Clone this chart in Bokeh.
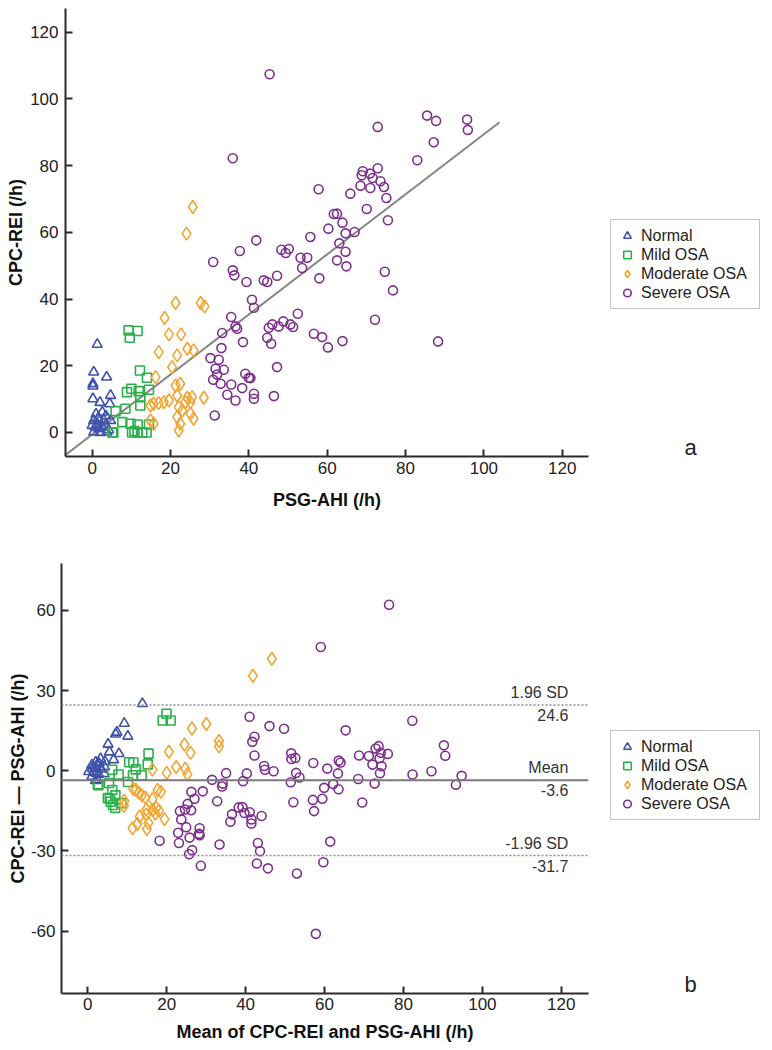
import numpy as np
from bokeh.plotting import figure
from bokeh.layouts import column, row
from bokeh.models import Range1d, Legend, LegendItem, Span, Label, FixedTicker
from bokeh.embed import file_html
from bokeh.resources import INLINE

# ---------------- data (PSG-AHI, CPC-REI) per severity group ----------------
normal_x = [1.3, 0.4, 3.7, 0.2, 0.2, 0.2, 4.7, 4.5, 2.6, 0.4, 3.0, 4.7, 0.0, 0.8, 1.7, 2.6, 3.4, 0.4, 2.1, 3.8, 1.3, 2.0, 3.5, 1.0, 1.5, 4.2]
normal_y = [26.4, 18.1, 16.6, 14.6, 13.9, 10.1, 11.1, 8.6, 6.1, 3.6, 3.6, 3.6, 2.1, 1.6, 1.1, 1.6, 2.1, 0.1, 0.0, 0.1, 2.6, 9.0, 5.0, 5.5, 4.2, 0.8]

mild_x = [9.3, 11.6, 9.6, 12.2, 14.0, 8.9, 10.0, 11.9, 14.5, 12.3, 8.5, 6.0, 12.3, 7.7, 9.8, 11.6, 14.5, 5.4, 10.2, 11.6, 13.9, 12.8, 10.8, 5.1]
mild_y = [30.6, 30.4, 28.4, 18.6, 16.4, 12.1, 13.1, 12.4, 12.8, 10.6, 7.1, 6.4, 8.1, 3.1, 2.6, 2.4, 2.4, 0.0, 0.0, 0.0, 0.0, 0.0, 0.4, 0.0]

moderate_x = [24.1, 25.7, 21.3, 27.7, 28.7, 18.5, 19.6, 22.7, 17.0, 24.3, 25.9, 21.7, 20.4, 16.2, 21.3, 22.5, 21.7, 28.5,
              24.3, 25.1, 23.8, 25.5, 15.7, 17.0, 18.3, 19.6, 14.9, 22.1, 23.0, 25.1, 25.9, 21.7, 22.5, 22.1, 14.9, 15.7]
moderate_y = [59.6, 67.6, 38.8, 38.8, 37.8, 34.3, 29.4, 29.4, 24.1, 25.1, 24.6, 23.1, 19.6, 16.6, 14.1, 14.6, 11.1, 10.4,
              10.4, 9.1, 9.1, 10.6, 8.6, 8.8, 9.1, 9.6, 8.1, 7.6, 6.6, 5.6, 4.1, 4.6, 2.6, 0.6, 3.6, 2.6]

severe_x = [45.3, 72.9, 85.5, 87.8, 95.7, 95.9, 87.2, 83.0, 72.9, 69.1, 68.8, 70.9, 71.6, 73.6, 74.5, 68.5, 71.0, 75.1,
            70.1, 75.5, 57.8, 65.9, 61.7, 62.5, 63.9, 60.3, 64.7, 67.0, 55.7, 41.9, 63.1, 48.3, 50.2, 49.4, 64.7, 53.2,
            54.9, 62.5, 53.6, 64.9, 58.0, 74.7, 76.8, 47.2, 43.8, 44.7, 40.8, 41.3, 52.5, 48.8, 46.0, 45.1, 47.6, 50.6,
            51.3, 72.2, 56.6, 58.7, 60.2, 63.9, 44.7, 45.7, 88.3, 47.2, 40.4, 41.3, 41.3, 46.4, 35.9, 30.9, 37.7, 35.9,
            36.3, 39.4, 35.5, 33.2, 36.6, 37.0, 38.5, 33.0, 30.2, 32.3, 31.5, 33.6, 30.9, 31.9, 32.8, 39.1, 40.0, 35.5,
            38.3, 34.5, 36.6, 31.3]
severe_y = [107.4, 91.6, 95.0, 93.4, 93.8, 90.7, 87.0, 81.6, 79.2, 78.3, 77.1, 77.6, 76.3, 75.3, 73.6, 74.0, 73.3, 70.3,
            67.0, 63.6, 72.9, 71.6, 65.5, 65.6, 62.9, 61.1, 59.7, 60.1, 58.6, 57.6, 56.7, 54.8, 55.0, 53.8, 54.2, 52.4,
            52.4, 51.6, 49.3, 49.8, 46.2, 48.2, 42.6, 47.0, 45.6, 45.1, 39.8, 37.4, 35.6, 33.3, 32.4, 31.4, 31.8, 32.4,
            31.6, 33.8, 29.6, 28.6, 25.5, 27.4, 28.4, 26.6, 27.3, 19.6, 16.3, 11.6, 10.1, 10.9, 82.2, 51.1, 54.4, 48.6,
            47.1, 45.1, 34.6, 29.8, 31.8, 31.1, 27.1, 25.3, 22.3, 21.8, 19.1, 18.8, 15.8, 17.4, 14.6, 17.6, 16.4, 14.4,
            13.3, 11.3, 9.6, 5.1]

group_labels = ["Normal", "Mild OSA", "Moderate OSA", "Severe OSA"]

# regression line
reg_slope = 0.9
reg_intercept = -0.6
reg_x_end = 104.0

# Bland-Altman statistics (as printed)
ba_mean = -3.6
ba_upper = 24.6
ba_lower = -31.7

x_ticks = [0, 20, 40, 60, 80, 100, 120]
ya_ticks = [0, 20, 40, 60, 80, 100, 120]
yb_ticks = [-60, -30, 0, 30, 60]

# ---------------- styling ----------------
FONT = "Liberation Sans"
AXC = "#2b2b2b"
COLORS = {"Normal": "#3f51a8", "Mild OSA": "#2db04b", "Moderate OSA": "#f2a531", "Severe OSA": "#7d2f8e"}
MARKERS = {"Normal": "triangle", "Mild OSA": "square", "Moderate OSA": "diamond", "Severe OSA": "circle"}
SIZES = {"Normal": 10, "Mild OSA": 9, "Moderate OSA": 13, "Severe OSA": 9}

groups = {
    "Normal": (np.array(normal_x), np.array(normal_y)),
    "Mild OSA": (np.array(mild_x), np.array(mild_y)),
    "Moderate OSA": (np.array(moderate_x), np.array(moderate_y)),
    "Severe OSA": (np.array(severe_x), np.array(severe_y)),
}


def style(p, xticks, yticks, y_standoff, y_label_standoff, x_standoff, x_label_standoff):
    for ax in (p.xaxis[0], p.yaxis[0]):
        ax.axis_line_width = 2
        ax.axis_line_color = AXC
        ax.major_tick_in = 7
        ax.major_tick_out = 0
        ax.major_tick_line_width = 2
        ax.major_tick_line_color = AXC
        ax.minor_tick_line_color = None
        ax.major_label_text_font = FONT
        ax.major_label_text_font_size = "17px"
        ax.major_label_text_color = "#222222"
        ax.axis_label_text_font = FONT
        ax.axis_label_text_font_style = "bold"
        ax.axis_label_text_font_size = "18px"
        ax.axis_label_text_color = "#111111"
    p.xaxis[0].major_label_standoff = x_standoff
    p.yaxis[0].major_label_standoff = y_standoff
    p.xaxis[0].axis_label_standoff = x_label_standoff
    p.yaxis[0].axis_label_standoff = y_label_standoff
    p.xaxis.ticker = FixedTicker(ticks=xticks)
    p.yaxis.ticker = FixedTicker(ticks=yticks)
    p.yaxis.major_label_overrides = {t: f"{t}" for t in yticks}
    p.xgrid.visible = False
    p.ygrid.visible = False
    p.outline_line_color = None


def side_panel(height, legend_xy, tag, tag_xy):
    # legend-only panel; its frame is aligned with the neighbouring plot's frame
    s = figure(width=176, height=height, output_backend="svg", toolbar_location=None,
               x_range=Range1d(-1000, -999), y_range=Range1d(-1000, -999),
               x_axis_type=None, y_axis_type=None, min_border=0)
    s.outline_line_color = None
    s.grid.visible = False
    rends = {}
    for g in group_labels:
        gx, gy = groups[g]
        rends[g] = s.scatter(gx, gy, marker=MARKERS[g], size=SIZES[g], fill_color=None,
                             line_color=COLORS[g], line_width=1.6)
    items = [LegendItem(label=g, renderers=[rends[g]]) for g in group_labels]
    lg = Legend(items=items, location=legend_xy, orientation="vertical")
    lg.border_line_color = "#8a8a8a"
    lg.border_line_width = 1
    lg.background_fill_color = "white"
    lg.background_fill_alpha = 1
    lg.label_text_font = FONT
    lg.label_text_font_size = "16px"
    lg.label_text_color = "#222222"
    lg.glyph_width = 20
    lg.glyph_height = 19
    lg.label_height = 19
    lg.label_width = 112
    lg.spacing = 0
    lg.padding = 6
    lg.margin = 0
    lg.label_standoff = 4
    s.add_layout(lg)
    s.add_layout(Label(x=tag_xy[0], y=tag_xy[1], x_units="screen", y_units="screen", text=tag,
                       text_align="center", text_baseline="middle",
                       text_font=FONT, text_font_size="22px", text_color="#222222"))
    return s


# ---------------- panel a ----------------
pa = figure(width=590, height=518, output_backend="svg", toolbar_location=None,
            x_range=Range1d(-6.8, 126.7), y_range=Range1d(-7.2, 127.1),
            min_border_left=65, min_border_right=2, min_border_top=8, min_border_bottom=62,
            x_axis_label="PSG-AHI (/h)", y_axis_label="CPC-REI (/h)")
style(pa, x_ticks, ya_ticks, 7, 1, 5, 13)

reg_x = np.array([pa.x_range.start, reg_x_end])
pa.line(reg_x, reg_slope * reg_x + reg_intercept, line_color="#858585", line_width=2)

for g in group_labels:
    gx, gy = groups[g]
    pa.scatter(gx, gy, marker=MARKERS[g], size=SIZES[g], fill_color=None,
               line_color=COLORS[g], line_width=1.6)

sa = side_panel(518, (20, 147), "a", (100, 9))

# ---------------- panel b (Bland-Altman) ----------------
pb = figure(width=590, height=530, output_backend="svg", toolbar_location=None,
            x_range=Range1d(-6.66, 126.9), y_range=Range1d(-83.3, 77.5),
            min_border_left=61, min_border_right=2, min_border_top=45, min_border_bottom=55,
            x_axis_label="Mean of CPC-REI and PSG-AHI (/h)", y_axis_label="CPC-REI \u2014 PSG-AHI (/h)")
style(pb, x_ticks, yb_ticks, 6, 0, 4, 9)

pb.add_layout(Span(location=ba_upper, dimension="width", line_color="#8a8a8a", line_width=1.6, line_dash="2 2"))
pb.add_layout(Span(location=ba_lower, dimension="width", line_color="#8a8a8a", line_width=1.6, line_dash="2 2"))
pb.add_layout(Span(location=ba_mean, dimension="width", line_color="#7a7a7a", line_width=2))

for g in group_labels:
    gx, gy = groups[g]
    pb.scatter((gx + gy) / 2.0, gy - gx, marker=MARKERS[g], size=SIZES[g], fill_color=None,
               line_color=COLORS[g], line_width=1.6)

LBL_X = 121.8
for yv, top_txt, bot_txt in [(ba_upper, "1.96 SD", f"{ba_upper:.1f}"),
                             (ba_mean, "Mean", f"{ba_mean:.1f}"),
                             (ba_lower, "-1.96 SD", f"{ba_lower:.1f}")]:
    pb.add_layout(Label(x=LBL_X, y=yv, text=top_txt, text_align="right", text_baseline="bottom", y_offset=4,
                        text_font=FONT, text_font_size="16px", text_color="#333333"))
    pb.add_layout(Label(x=LBL_X, y=yv, text=bot_txt, text_align="right", text_baseline="top", y_offset=-4,
                        text_font=FONT, text_font_size="16px", text_color="#333333"))

sb = side_panel(530, (20, 173), "b", (100, 9))

layout = column(row(pa, sa, spacing=0), row(pb, sb, spacing=0), spacing=0)
open("out.html", "w").write(file_html(layout, INLINE))
